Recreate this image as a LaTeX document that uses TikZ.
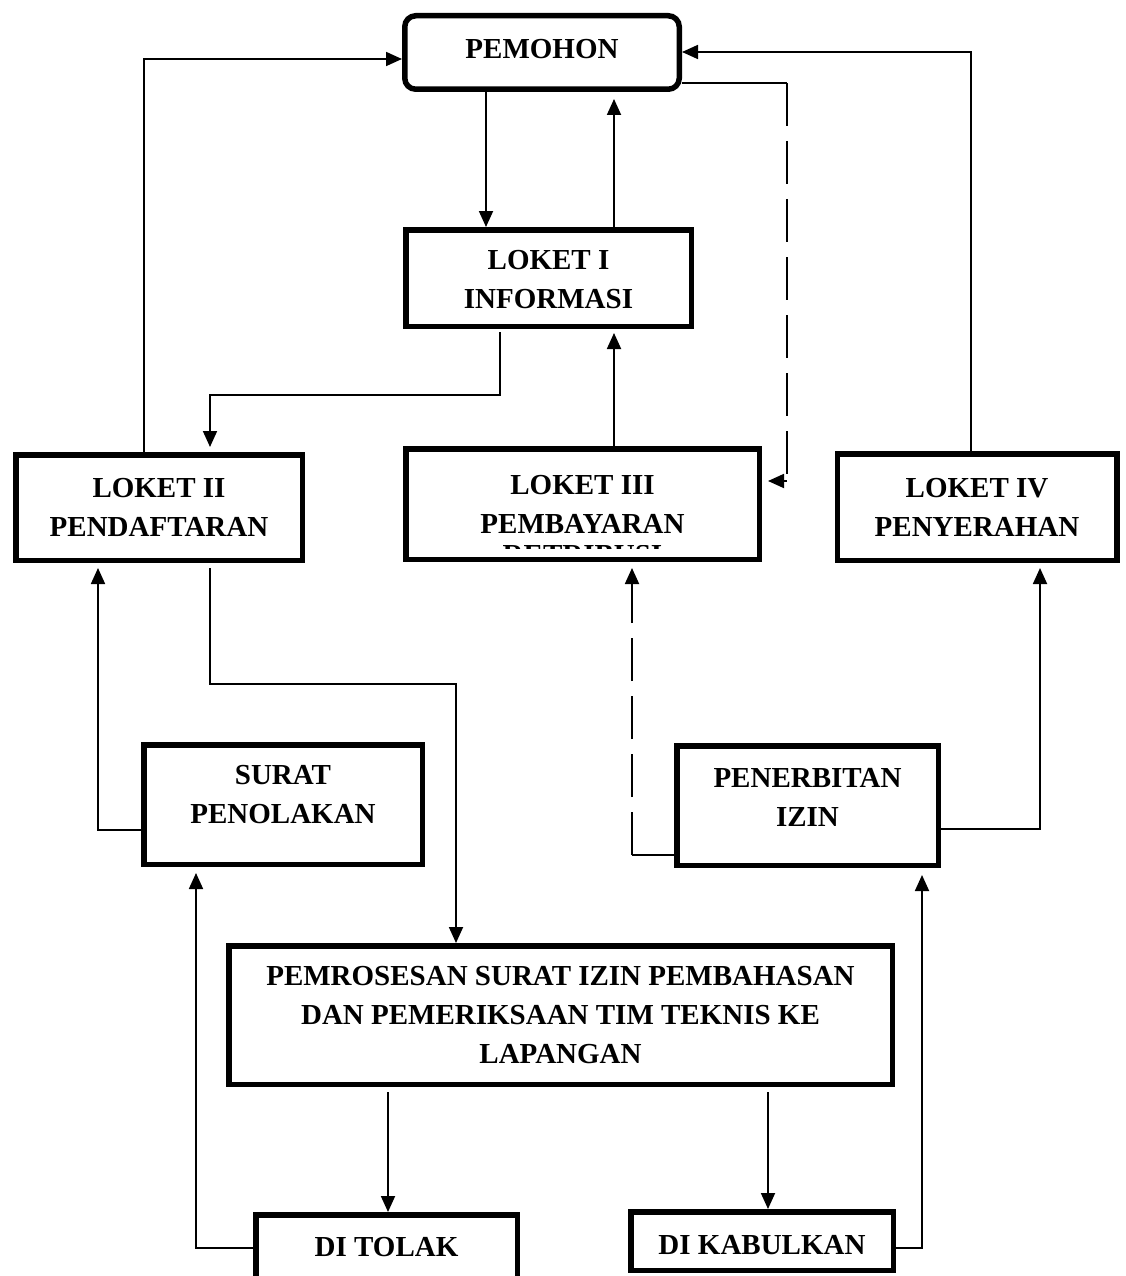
\documentclass[tikz,border=0pt]{standalone}
\usepackage{fontspec}
\setmainfont{Liberation Serif}
\usetikzlibrary{arrows.meta}
\begin{document}
\begin{tikzpicture}[x=1pt,y=-1pt,
  lbl/.style={font=\bfseries\fontsize{29}{39}\selectfont, align=center, inner sep=0pt},
  box/.style={lbl, draw, line width=5.5pt},
  link/.style={line width=1.8pt},
  arr/.style={link, -{Triangle[length=16pt,width=14pt]}},
  dashlink/.style={dash pattern=on 43pt off 15pt}
]
\fill[white] (0,0) rectangle (1125,1276);
\useasboundingbox (0,0) rectangle (1125,1276);
\clip (0,0) rectangle (1125,1276);

% boxes (frames), texts placed separately where they sit off-centre
\node[box, rounded corners=11pt, minimum width=274.5pt, minimum height=73.5pt] (pemohon) at (542,52.5) {};
\node[lbl] (pemohontxt) at ([yshift=3pt]pemohon.center) {PEMOHON};
\node[box, minimum width=285.5pt, minimum height=96.5pt] (loket1) at (548.5,278) {};
\node[lbl] (loket1txt) at ([yshift=-2pt]loket1.center) {LOKET I\\INFORMASI};
\node[box, minimum width=286.5pt, minimum height=105.5pt] (loket2) at (159,507.5) {LOKET II\\PENDAFTARAN};
\node[box, minimum width=353.5pt, minimum height=110.5pt] (loket3) at (582.5,504) {LOKET III\\PEMBAYARAN};
\node[box, minimum width=279.5pt, minimum height=106.5pt] (loket4) at (977,507) {LOKET IV\\PENYERAHAN};
\node[box, minimum width=278.5pt, minimum height=119.5pt] (surat) at (283,804.5) {};
\node[lbl] (surattxt) at ([yshift=10pt]surat.center) {SURAT\\PENOLAKAN};
\node[box, minimum width=261.5pt, minimum height=119.5pt] (terbit) at (807.5,805.5) {};
\node[lbl] (terbittxt) at ([yshift=8pt]terbit.center) {PENERBITAN\\IZIN};
\node[box, minimum width=663.5pt, minimum height=138.5pt] (proses) at (560.5,1015) {PEMROSESAN SURAT IZIN PEMBAHASAN\\DAN PEMERIKSAAN TIM TEKNIS KE\\LAPANGAN};
\node[box, minimum width=261.5pt, minimum height=94.5pt] (tolak) at (386.5,1262) {};
\node[lbl] (tolaktxt) at (386.5,1247) {DI TOLAK};
\node[box, minimum width=262.5pt, minimum height=58.5pt] (kabul) at (762,1241) {};
\node[lbl] (kabultxt) at ([yshift=-4pt]kabul.center) {DI KABULKAN};

% third line of the payment counter, hidden by the frame
\begin{scope}
  \clip (470,545) rectangle (700,548.5);
  \node[lbl] (retribusi) at (582.5,555) {RETRIBUSI};
\end{scope}

% columns and rows of the connectors
\coordinate (xa) at (144,0);
\coordinate (xb) at (486,0);
\coordinate (xc) at (614,0);
\coordinate (xe) at (500,0);
\coordinate (xf) at (210,0);
\coordinate (xg) at (787,0);
\coordinate (xh) at (971,0);
\coordinate (xi) at (98,0);
\coordinate (xj) at (456,0);
\coordinate (xk) at (632,0);
\coordinate (xl) at (1040,0);
\coordinate (xm) at (196,0);
\coordinate (xn) at (388,0);
\coordinate (xo) at (768,0);
\coordinate (xp) at (922,0);
\coordinate (ya) at (0,59);
\coordinate (yb) at (0,52);
\coordinate (yc) at (0,83);
\coordinate (yd) at (0,395);
\coordinate (ye) at (0,481);
\coordinate (yf) at (0,684);
\coordinate (yg) at (0,830);
\coordinate (yh) at (0,855);
\coordinate (yi) at (0,829);
\coordinate (yj) at (0,1248);

% connectors
\draw[arr] (loket2.north -| xa) |- (pemohon.west |- ya);
\draw[arr] (pemohon.south -| xb) -- (loket1.north -| xb);
\draw[arr, shorten >=7pt] (loket1.north -| xc) -- (pemohon.south -| xc);
\draw[arr, shorten >=4pt] (loket3.north -| xc) -- (loket1.south -| xc);
\draw[arr, shorten <=3pt, shorten >=5pt] (loket1.south -| xe) -- (xe |- yd) -- (xf |- yd) -- (loket2.north -| xf);
\draw[link] (pemohon.east |- yc) -- (xg |- yc);
\draw[link, dashlink] (xg |- yc) -- (xg |- ye);
\draw[arr, shorten >=6pt] (xg |- ye) -- (loket3.east |- ye);
\draw[arr] (loket4.north -| xh) |- (pemohon.east |- yb);
\draw[arr, shorten <=5pt] (loket2.south -| xf) |- (xj |- yf) -- (proses.north -| xj);
\draw[arr, shorten >=5pt] (surat.west |- yg) -| (loket2.south -| xi);
\draw[arr, shorten >=6pt] (tolak.west |- yj) -| (surat.south -| xm);
\draw[arr, shorten <=5pt] (proses.south -| xn) -- (tolak.north -| xn);
\draw[arr, shorten <=5pt] (proses.south -| xo) -- (kabul.north -| xo);
\draw[arr, shorten >=7pt] (kabul.east |- yj) -| (terbit.south -| xp);
\draw[arr, shorten >=5pt] (terbit.east |- yi) -| (loket4.south -| xl);
\draw[link] (terbit.west |- yh) -- (xk |- yh);
\draw[arr, dashlink, shorten >=6pt] (xk |- yh) -- (loket3.south -| xk);
\end{tikzpicture}
\end{document}
